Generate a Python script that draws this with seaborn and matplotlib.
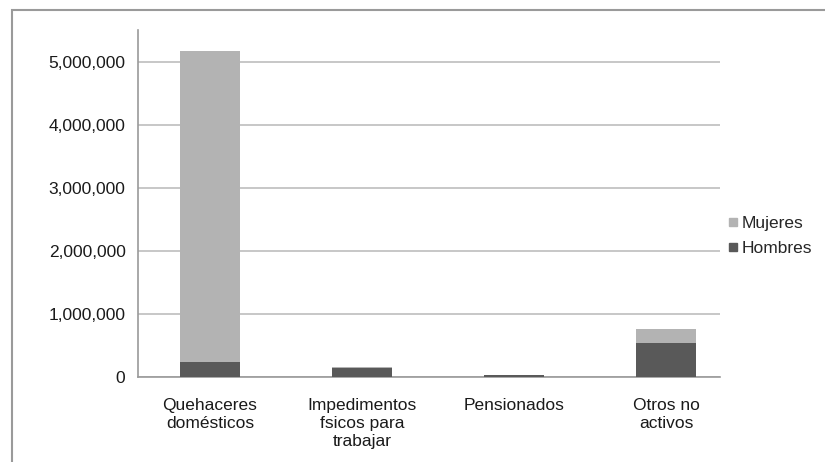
import pandas as pd
import numpy as np
import matplotlib.pyplot as plt
import seaborn as sns
from matplotlib.lines import Line2D
from matplotlib.patches import Rectangle
from matplotlib.ticker import FuncFormatter

# ========== DATOS ==========
categorias = ["Quehaceres\ndomésticos", "Impedimentos\nfsicos para\ntrabajar", "Pensionados", "Otros no\nactivos"]
hombres = [240000, 140000, 25000, 540000]
mujeres = [4920000, 15000, 5000, 220000]

df = pd.DataFrame({"categoria": categorias, "Hombres": hombres, "Mujeres": mujeres})
df["Total"] = df["Hombres"] + df["Mujeres"]

col_muj = "#b3b3b3"
col_hom = "#595959"

sns.set_style("white")
plt.rcParams["font.family"] = ["Liberation Sans", "DejaVu Sans"]

fig = plt.figure(figsize=(8.25, 4.62), dpi=100)
ax = fig.add_axes([138 / 825, 1 - 377 / 462, 582 / 825, 347 / 462])

# barras apiladas: total (mujeres) detras, hombres delante
sns.barplot(data=df, x="categoria", y="Total", color=col_muj, width=0.39,
            saturation=1, linewidth=0, ax=ax, zorder=3)
sns.barplot(data=df, x="categoria", y="Hombres", color=col_hom, width=0.39,
            saturation=1, linewidth=0, ax=ax, zorder=4)

ax.set_xlim(-0.474, 3.355)
ax.set_ylim(0, 5500000)
ax.set_yticks(np.arange(0, 5000001, 1000000))
ax.yaxis.set_major_formatter(FuncFormatter(lambda v, p: f"{int(v):,}"))
ax.yaxis.grid(True, color="#bdbdbd", linewidth=1.2, zorder=0)
ax.set_axisbelow(True)
ax.set_xlabel("")
ax.set_ylabel("")

# ticks de categoria entre barras
ax.set_xticks([0, 1, 2, 3])
ax.set_xticklabels(categorias, fontsize=12.5, color="#1a1a1a", linespacing=1.25)
ax.tick_params(axis="x", length=0, pad=15)
ax.set_xticks([0.5, 1.5, 2.5], minor=True)
ax.tick_params(axis="x", which="minor", length=5, color="#999999", direction="out")
ax.tick_params(axis="y", length=6, color="#999999", labelsize=12.5, labelcolor="#1a1a1a", pad=3)

for s in ["top", "right"]:
    ax.spines[s].set_visible(False)
for s in ["left", "bottom"]:
    ax.spines[s].set_color("#9a9a9a")
    ax.spines[s].set_linewidth(1.2)

# leyenda
handles = [Line2D([], [], marker="s", color="none", markerfacecolor=col_muj, markeredgecolor=col_muj, markersize=6),
           Line2D([], [], marker="s", color="none", markerfacecolor=col_hom, markeredgecolor=col_hom, markersize=6)]
fig.legend(handles, ["Mujeres", "Hombres"], loc="center left",
           bbox_to_anchor=(710 / 825, 1 - 236 / 462), frameon=False,
           handlelength=0.8, handletextpad=0.1, labelspacing=0.55, fontsize=12.5)

# marco exterior
fig.patches.append(Rectangle((12 / 825, -0.1), 1.2, 1 - 10 / 462 + 0.1,
                             transform=fig.transFigure, fill=False,
                             edgecolor="#9a9a9a", linewidth=1.5))

fig.savefig("out.png", dpi=100)
